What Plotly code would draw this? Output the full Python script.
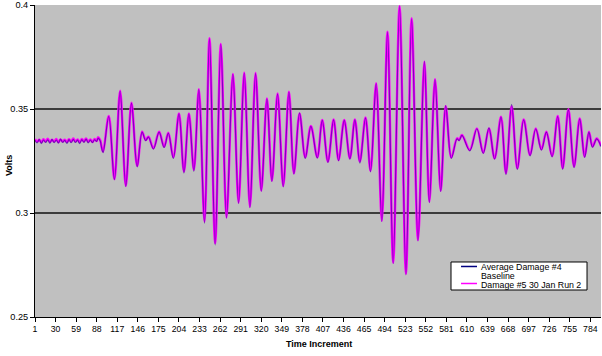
import plotly.graph_objects as go

# Sample index (time increment) of each read point
increment = [1, 4, 7, 10, 13, 16, 19, 22, 25, 28, 31, 34, 37, 40, 43, 46, 49, 52, 55, 58,
             61, 64, 67, 70, 73, 76, 79, 82, 85, 88, 90, 93, 95, 97,
             105, 113, 121, 129, 137, 145, 152, 157, 161, 168, 176, 183, 189, 196, 204, 211,
             218, 225, 232, 240, 247, 255, 263, 271, 280, 288, 296, 304, 312, 320, 328, 335,
             343, 351, 359, 366, 374, 382, 390, 399, 406, 414, 422, 429, 437, 445, 452, 459,
             467, 474, 482, 490, 498, 506, 515, 524, 532, 541, 550, 557, 565, 573, 580, 588,
             596, 599, 603, 614, 624, 633, 641, 649, 658, 665, 673, 681, 690, 699, 707, 715,
             722, 730, 738, 745, 753, 761, 769, 776, 782, 787, 793, 799]

damage5_volts = [0.3356, 0.3343, 0.3352, 0.3340, 0.3355, 0.3344, 0.3357, 0.3341, 0.3353, 0.3343,
                 0.3356, 0.3340, 0.3354, 0.3344, 0.3352, 0.3341, 0.3355, 0.3343, 0.3358, 0.3344,
                 0.3354, 0.3340, 0.3356, 0.3344, 0.3359, 0.3342, 0.3354, 0.3341, 0.3356, 0.3346,
                 0.3364, 0.3350, 0.3316, 0.3295,
                 0.3466, 0.3163, 0.3588, 0.3130, 0.3530, 0.3226, 0.3391, 0.3351, 0.3367, 0.3311,
                 0.3391, 0.3319, 0.3386, 0.3268, 0.3479, 0.3199, 0.3479, 0.3207, 0.3595, 0.2958,
                 0.3840, 0.2854, 0.3813, 0.2979, 0.3668, 0.3050, 0.3675, 0.3030, 0.3673, 0.3108,
                 0.3551, 0.3155, 0.3575, 0.3130, 0.3583, 0.3191, 0.3479, 0.3268, 0.3418, 0.3268,
                 0.3447, 0.3247, 0.3450, 0.3255, 0.3447, 0.3263, 0.3450, 0.3247, 0.3459, 0.3202,
                 0.3624, 0.2963, 0.3872, 0.2761, 0.3995, 0.2707, 0.3936, 0.2870, 0.3727, 0.3054,
                 0.3643, 0.3107, 0.3514, 0.3267, 0.3359, 0.3351, 0.3375, 0.3303, 0.3407, 0.3290,
                 0.3407, 0.3263, 0.3463, 0.3191, 0.3514, 0.3215, 0.3450, 0.3279, 0.3407, 0.3306,
                 0.3391, 0.3274, 0.3466, 0.3215, 0.3499, 0.3223, 0.3455, 0.3271, 0.3391, 0.3320,
                 0.3358, 0.3322]

baseline_volts = [0.3350, 0.3337, 0.3354, 0.3334, 0.3351, 0.3339, 0.3352, 0.3335, 0.3354, 0.3338,
                  0.3351, 0.3336, 0.3355, 0.3339, 0.3349, 0.3335, 0.3353, 0.3338, 0.3354, 0.3339,
                  0.3350, 0.3334, 0.3353, 0.3340, 0.3355, 0.3337, 0.3351, 0.3338, 0.3352, 0.3344,
                  0.3360, 0.3346, 0.3312, 0.3290,
                  0.3464, 0.3160, 0.3586, 0.3127, 0.3528, 0.3222, 0.3389, 0.3348, 0.3365, 0.3307,
                  0.3389, 0.3315, 0.3384, 0.3262, 0.3477, 0.3192, 0.3477, 0.3200, 0.3593, 0.2950,
                  0.3838, 0.2846, 0.3811, 0.2975, 0.3666, 0.3046, 0.3673, 0.3026, 0.3671, 0.3104,
                  0.3549, 0.3151, 0.3573, 0.3126, 0.3581, 0.3187, 0.3481, 0.3262, 0.3416, 0.3264,
                  0.3445, 0.3243, 0.3448, 0.3251, 0.3445, 0.3259, 0.3448, 0.3240, 0.3457, 0.3198,
                  0.3622, 0.2959, 0.3870, 0.2757, 0.3993, 0.2703, 0.3934, 0.2866, 0.3729, 0.3050,
                  0.3641, 0.3103, 0.3516, 0.3263, 0.3357, 0.3348, 0.3373, 0.3299, 0.3405, 0.3286,
                  0.3409, 0.3259, 0.3461, 0.3184, 0.3522, 0.3210, 0.3448, 0.3275, 0.3405, 0.3302,
                  0.3389, 0.3270, 0.3464, 0.3210, 0.3497, 0.3218, 0.3453, 0.3267, 0.3389, 0.3316,
                  0.3356, 0.3319]

x_tick_values = [1, 30, 59, 88, 117, 146, 175, 204, 233, 262, 291, 320, 349, 378, 407,
                 436, 465, 494, 523, 552, 581, 610, 639, 668, 697, 726, 755, 784]
y_tick_values = [0.25, 0.3, 0.35, 0.4]
y_tick_labels = ["0.25", "0.3", "0.35", "0.4"]

series_names = ["Average Damage #4 Baseline", "Damage #5 30 Jan Run 2"]
series_colors = ["#000080", "#FF00FF"]

font_family = "Liberation Sans, Arial, sans-serif"

fig = go.Figure()
fig.add_trace(go.Scatter(
    x=increment, y=damage5_volts, mode="lines",
    name=series_names[1], showlegend=False,
    line=dict(color=series_colors[1], width=2.4, shape="spline", smoothing=1),
))
fig.add_trace(go.Scatter(
    x=increment, y=baseline_volts, mode="lines",
    name=series_names[0], showlegend=False,
    line=dict(color="rgba(0,0,128,0.5)", width=1.2, shape="spline", smoothing=1),
))

# Legend box (Excel style: compact, bottom right); paper coords of the plot area
lx0, lx1, ly0, ly1 = 0.735, 0.9753, 0.0865, 0.1763
shapes = [
    dict(type="rect", xref="paper", yref="paper", x0=lx0, x1=lx1, y0=ly0, y1=ly1,
         fillcolor="white", line=dict(color="black", width=1), layer="above"),
    dict(type="line", xref="paper", yref="paper", x0=0.7527, x1=0.7809, y0=0.1619, y1=0.1619,
         line=dict(color=series_colors[0], width=1.5), layer="above"),
    dict(type="line", xref="paper", yref="paper", x0=0.7527, x1=0.7809, y0=0.1074, y1=0.1074,
         line=dict(color=series_colors[1], width=1.5), layer="above"),
]
legend_words = series_names[0].rsplit(" ", 1)

fig.update_layout(
    width=602, height=356,
    margin=dict(l=35, r=1, t=5, b=39, autoexpand=False),
    paper_bgcolor="white",
    plot_bgcolor="#C0C0C0",
    font=dict(family=font_family, size=10, color="black"),
    showlegend=False,
    xaxis=dict(
        range=[1, 799], tickmode="array", tickvals=x_tick_values,
        ticks="outside", ticklen=4, tickcolor="black",
        showline=True, linecolor="black", linewidth=1,
        showgrid=False, zeroline=False, automargin=False,
        tickfont=dict(size=8.7),
    ),
    yaxis=dict(
        range=[0.25, 0.4], tickmode="array", tickvals=y_tick_values, ticktext=y_tick_labels,
        ticks="outside", ticklen=4, tickcolor="black",
        showline=True, linecolor="black", linewidth=1,
        showgrid=True, gridcolor="#3c3c3c", gridwidth=1.5,
        zeroline=False, automargin=False, tickfont=dict(size=9.2),
    ),
    shapes=shapes,
    annotations=[
        dict(text="<b>Time Increment</b>", xref="paper", yref="paper",
             x=0.502, y=-0.087, xanchor="center", yanchor="middle",
             showarrow=False, font=dict(size=9)),
        dict(text="<b>Volts</b>", xref="paper", yref="paper",
             x=-0.046, y=0.487, xanchor="center", yanchor="middle",
             textangle=-90, showarrow=False, font=dict(size=9)),
        dict(text=legend_words[0], xref="paper", yref="paper",
             x=0.7836, y=0.1610, xanchor="left", yanchor="middle",
             showarrow=False, font=dict(size=8.8)),
        dict(text=legend_words[1], xref="paper", yref="paper",
             x=0.7836, y=0.1320, xanchor="left", yanchor="middle",
             showarrow=False, font=dict(size=8.8)),
        dict(text=series_names[1], xref="paper", yref="paper",
             x=0.7836, y=0.1010, xanchor="left", yanchor="middle",
             showarrow=False, font=dict(size=8.8)),
    ],
)

fig.write_html(
    "out.html",
    config={"displayModeBar": False},
    post_script="document.body.style.margin='0';document.body.style.padding='0';",
)
